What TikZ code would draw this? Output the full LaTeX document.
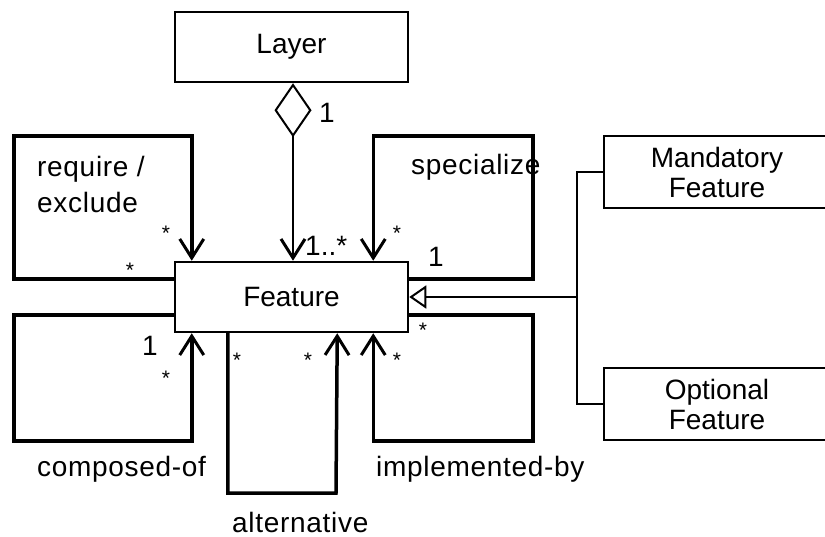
\documentclass[tikz,border=0pt]{standalone}
\usepackage{fontspec}
\setmainfont{Liberation Sans}
\newfontfamily\labelfont[LetterSpace=2.5]{Liberation Sans}
\usetikzlibrary{arrows.meta}
\tikzset{
  x=1pt, y=-1pt,
  classbox/.style={draw, line width=2.5pt, minimum width=233pt, minimum height=70pt,
    inner sep=0pt, align=center, font=\fontsize{28}{30}\selectfont},
  sidebox/.style={draw, line width=2.5pt, minimum width=226pt, minimum height=72pt,
    inner sep=0pt, align=center, font=\fontsize{28}{30}\selectfont},
  loop/.style={line width=3.5pt, -{Straight Barb[length=19pt,width=24pt,line width=3pt]}},
  gen/.style={line width=2pt},
  role/.style={font=\labelfont\fontsize{28}{36}\selectfont, inner sep=0pt, anchor=west, align=left},
  mult/.style={font=\fontsize{28}{30}\selectfont, inner sep=0pt},
  star/.style={font=\fontsize{21}{22}\selectfont, inner sep=0pt},
}
\begin{document}
\begin{tikzpicture}
\useasboundingbox (0,0) rectangle (825,537);

% classes
\node[classbox] (layer)   at (291.5,47) {Layer};
\node[classbox] (feature) at (291.5,297) {Feature};
\node[sidebox]  (mand)    at (717,172) {Mandatory\\Feature};
\node[sidebox]  (opt)     at (717,404) {Optional\\Feature};

% aggregation Layer -> Feature
\draw[line width=2.5pt,
  {Diamond[open,length=54pt,width=37pt,line width=2pt]}-{Straight Barb[length=19pt,width=24pt,line width=3pt]}]
  ([xshift=1.5pt]layer.south) -- ([xshift=1.5pt]feature.north);

% self associations
\draw[loop] ([yshift=18pt]feature.west) -| (14,136) -| ([xshift=18pt]feature.north west);
\draw[loop] ([yshift=18pt]feature.east) -| (533,136) -| ([xshift=-36pt]feature.north east);
\draw[loop] ([yshift=-18pt]feature.west) -| (14,441) -| ([xshift=18pt]feature.south west);
\draw[loop] ([xshift=54pt]feature.south west) |- (336,493) -- ([xshift=-72pt]feature.south east);
\draw[loop] ([yshift=-18pt]feature.east) -| (533,441) -| ([xshift=-36pt]feature.south east);

% generalization
\coordinate (fork) at (577,297);
\draw[gen, -{Triangle[open,length=17pt,width=23pt,line width=2pt]}] (fork) -- (feature.east);
\draw[gen] (mand.west) -| (fork) |- (opt.west);

% role names
\node[role] at (37,184) {require /\\exclude};
\node[role] at (411,167) {specialize};
\node[role] at (37,469) {composed-of};
\node[role] at (376,469) {implemented-by};
\node[role] at (232,522) {alternative};

% multiplicities
\node[mult] at (327,113) {1};
\node[mult, anchor=west] at (305,246) {1..*};
\node[mult] at (436,257) {1};
\node[mult] at (150,346) {1};
\node[star] at (166,233) {*};
\node[star] at (130,270) {*};
\node[star] at (397,233) {*};
\node[star] at (423,330) {*};
\node[star] at (166,378) {*};
\node[star] at (237,360) {*};
\node[star] at (308,360) {*};
\node[star] at (397,360) {*};
\end{tikzpicture}
\end{document}
